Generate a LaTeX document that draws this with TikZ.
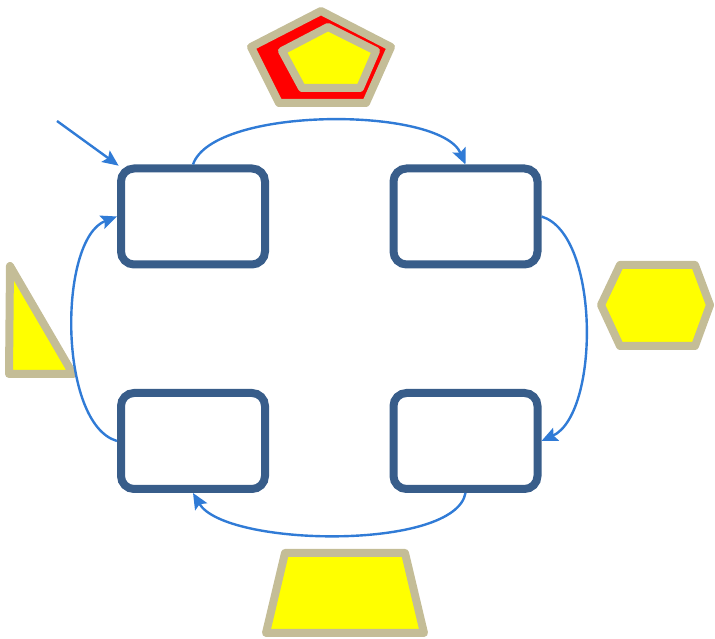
\documentclass[tikz,border=0pt]{standalone}
\usetikzlibrary{arrows.meta}
\definecolor{boxblue}{RGB}{56,93,138}
\definecolor{arrblue}{RGB}{48,123,214}
\definecolor{tanline}{RGB}{196,189,151}
\definecolor{shapefill}{RGB}{255,255,0}
\definecolor{shapered}{RGB}{255,0,0}
\tikzset{
  stagebox/.style={draw=boxblue, line width=8pt, rounded corners=13pt, minimum width=144pt, minimum height=96pt, inner sep=0pt, fill=white},
  conn/.style={draw=arrblue, line width=2.4pt, -{Stealth[length=16pt,width=14pt,inset=3pt]}},
  deco/.style={draw=tanline, line width=8pt, line join=round, fill=shapefill}
}
\begin{document}
\begin{tikzpicture}[x=1pt,y=1pt]
\useasboundingbox (0,0) rectangle (715,639);
% decorative shapes
\draw[deco, fill=shapered] (321,628) -- (251,592) -- (279,536) -- (366,536) -- (391,592) -- cycle;
\draw[deco] (328,612) -- (282,588) -- (302,551) -- (360,551) -- (376,588) -- cycle;
\draw[deco] (10,373) -- (9,265) -- (73,265) -- cycle;
\draw[deco] (601,334) -- (620,374) -- (695,374) -- (710,334) -- (695,293) -- (620,293) -- cycle;
\draw[deco] (285,86) -- (405,86) -- (424,6) -- (266,6) -- cycle;
% boxes
\node[stagebox] (TL) at (193,422.5) {};
\node[stagebox] (TR) at (465.5,422.5) {};
\node[stagebox] (BL) at (193,198) {};
\node[stagebox] (BR) at (465.5,198) {};
% connectors
\coordinate (start) at (57,518);
\draw[conn, shorten >=-2pt] (start) -- (TL.north west);
\draw[conn] (TL.north) .. controls (213,533) and (440,533) .. (TR.north);
\draw[conn] (TR.east) .. controls (600,405) and (600,225) .. (BR.east);
\draw[conn] (BR.south) .. controls (455,88) and (225,92) .. (BL.south);
\draw[conn] (BL.west) .. controls (58,215) and (58,400) .. (TL.west);
\end{tikzpicture}
\end{document}
